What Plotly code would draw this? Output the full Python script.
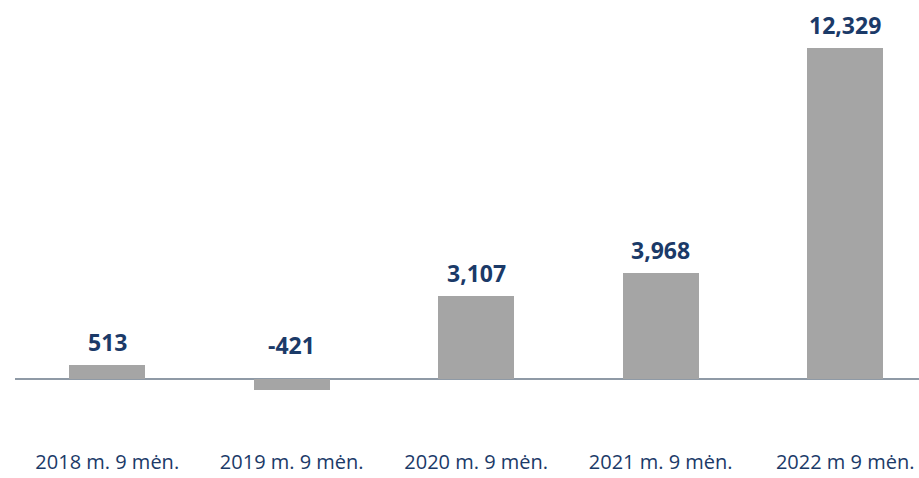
import plotly.graph_objects as go

categories = ["2018 m. 9 mėn.", "2019 m. 9 mėn.", "2020 m. 9 mėn.", "2021 m. 9 mėn.", "2022 m 9 mėn."]
values = [513, -421, 3107, 3968, 12329]

NAVY = "#1b3a68"

fig = go.Figure()
fig.add_trace(go.Bar(
    x=list(range(len(categories))),
    y=values,
    width=0.41,
    marker=dict(color="#a5a5a5", line=dict(width=0)),
    hoverinfo="skip",
))

for i, v in enumerate(values):
    fig.add_annotation(
        x=i, y=max(v, 0), xref="x", yref="y",
        text=f"<b>{v:,}</b>",
        showarrow=False,
        yanchor="middle",
        yshift=23 if v >= 0 else 34,
        font=dict(family="Open Sans", size=23, color=NAVY),
    )

fig.update_layout(
    width=919, height=478,
    margin=dict(l=15, r=0, t=0, b=30),
    paper_bgcolor="white", plot_bgcolor="white",
    showlegend=False,
    bargap=0,
    xaxis=dict(
        range=[-0.5, 4.4],
        tickmode="array",
        tickvals=list(range(len(categories))),
        ticktext=categories,
        showgrid=False, zeroline=False, showline=False,
        ticks="",
        tickfont=dict(family="Open Sans", size=20, color=NAVY),
        automargin=False,
    ),
    yaxis=dict(
        range=[-2573, 14131],
        showgrid=False, showticklabels=False, ticks="",
        zeroline=True, zerolinecolor="#8f9aa6", zerolinewidth=1.5,
        showline=False,
        automargin=False,
    ),
)

fig.write_html(
    "out.html",
    config={"displayModeBar": False},
    post_script="document.body.style.margin='0';document.body.style.overflow='hidden';",
)
